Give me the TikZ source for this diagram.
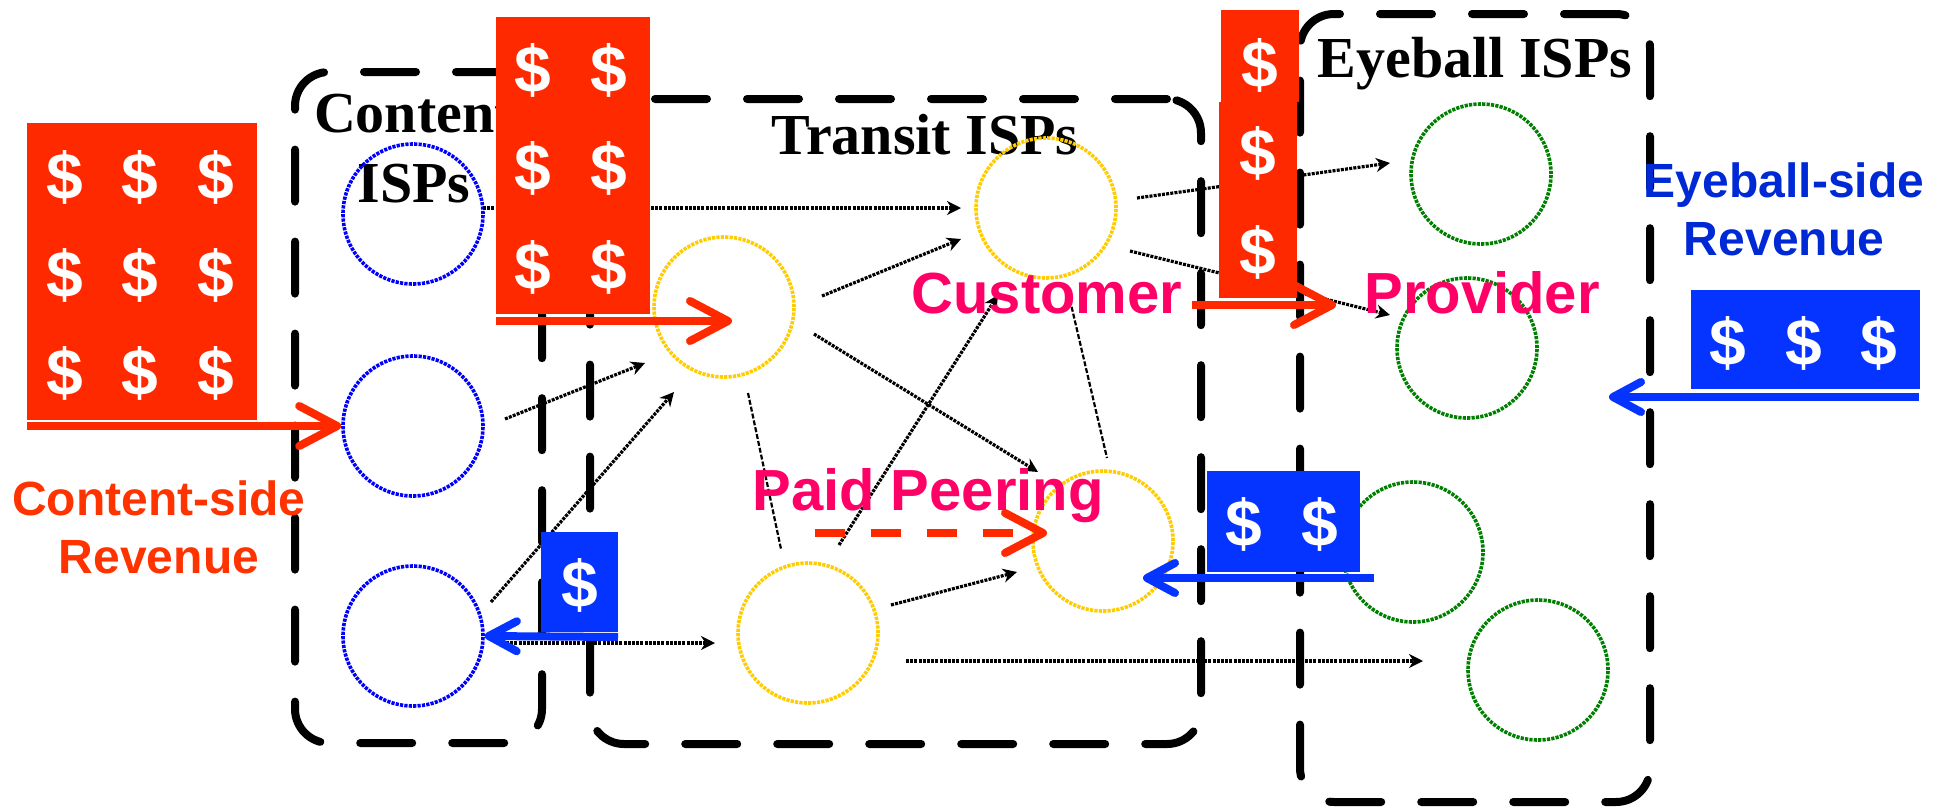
\documentclass[tikz,border=0pt]{standalone}
\usepackage{fontspec}
\setmainfont{Liberation Serif}
\newfontfamily\sansf{Liberation Sans}
\usetikzlibrary{arrows.meta}
\definecolor{cashred}{RGB}{255,41,0}
\definecolor{cashblue}{RGB}{5,51,255}
\definecolor{reltext}{RGB}{255,0,102}
\definecolor{revred}{RGB}{255,51,0}
\definecolor{revblue}{RGB}{0,41,214}
\definecolor{ispblue}{RGB}{0,0,255}
\definecolor{ispyellow}{RGB}{255,204,0}
\definecolor{ispgreen}{RGB}{0,128,0}
\tikzset{
  grp/.style={draw=black, line width=4pt, dash pattern=on 26pt off 20pt, line cap=round, rounded corners=17pt, inner sep=0pt},
  isp/.style={circle, line width=1.8pt, dash pattern=on 1.6pt off 0.6pt, minimum size=70pt, inner sep=0pt},
  link/.style={line width=1.6pt, dash pattern=on 1.5pt off 0.6pt, -{Stealth[length=7pt,width=7pt]}},
  peer/.style={line width=1.1pt, dash pattern=on 2.5pt off 1pt},
  moneyR/.style={draw=cashred, line width=4pt, -{Straight Barb[length=19pt,width=20pt,round]}},
  moneyB/.style={draw=cashblue, line width=4pt, -{Straight Barb[length=14pt,width=15pt,round]}},
  cashR/.style={fill=cashred, inner sep=0pt, anchor=north west},
  cashB/.style={fill=cashblue, inner sep=0pt, anchor=north west},
  dollar/.style={font=\sansf\bfseries\fontsize{33}{33}\selectfont, text=white, inner sep=0pt},
  title/.style={font=\bfseries\fontsize{29}{29}\selectfont, inner sep=0pt, anchor=base},
  rel/.style={font=\sansf\bfseries\fontsize{29}{29}\selectfont, text=reltext, inner sep=0pt, anchor=base},
  rev/.style={font=\sansf\bfseries\fontsize{24}{24}\selectfont, inner sep=0pt, anchor=base}
}
\begin{document}
\begin{tikzpicture}[x=0.5pt,y=-0.5pt]
\useasboundingbox[fill=white] (0,0) rectangle (1944,809);

% group boxes
\node[grp, minimum width=123.5pt, minimum height=335.5pt] (content) at (418.5,407.5) {};
\node[grp, minimum width=305.5pt, minimum height=322.5pt] (transit) at (895.5,421.5) {};
\node[grp, minimum width=175pt, minimum height=394pt] (eyeball) at (1475,408) {};

% group titles
\node[title] (tcont) at (414,132) {Content};
\node[title] (tcisp) at (414,202) {ISPs};
\node[title] (ttran) at (925,154) {Transit ISPs};
\node[title] (teye) at (1475,77) {Eyeball ISPs};

% ISPs
\node[isp, draw=ispblue] (C1) at (413,214) {};
\node[isp, draw=ispblue] (C2) at (413,426) {};
\node[isp, draw=ispblue] (C3) at (413,636) {};
\node[isp, draw=ispyellow] (T1) at (724,307) {};
\node[isp, draw=ispyellow] (T2) at (1046,208) {};
\node[isp, draw=ispyellow] (T3) at (808,633) {};
\node[isp, draw=ispyellow] (T4) at (1103,541) {};
\node[isp, draw=ispgreen] (E1) at (1481,174) {};
\node[isp, draw=ispgreen] (E2) at (1467,348) {};
\node[isp, draw=ispgreen] (E3) at (1413,552) {};
\node[isp, draw=ispgreen] (E4) at (1538,670) {};

% links
\draw[link] ([shift={(70,-6)}]C1.center) -- ([shift={(-85,0)}]T2.center);
\draw[link] ([shift={(92,-7)}]C2.center) -- ([shift={(-79,56)}]T1.center);
\draw[link] ([shift={(78,-34)}]C3.center) -- ([shift={(-50,85)}]T1.center);
\draw[link] ([shift={(93,7)}]C3.center) -- ([shift={(-93,10)}]T3.center);
\draw[link] ([shift={(98,-11)}]T1.center) -- ([shift={(-85,31)}]T2.center);
\draw[link] ([shift={(90,27)}]T1.center) -- ([shift={(-65,-69)}]T4.center);
\draw[link] ([shift={(31,-88)}]T3.center) -- ([shift={(-48,87)}]T2.center);
\draw[peer] ([shift={(24,86)}]T1.center) -- ([shift={(-27,-84)}]T3.center);
\draw[peer] ([shift={(24,92)}]T2.center) -- ([shift={(4,-83)}]T4.center);
\draw[link] ([shift={(83,-28)}]T3.center) -- ([shift={(-86,31)}]T4.center);
\draw[link] ([shift={(98,28)}]T3.center) -- ([shift={(-115,-9)}]E4.center);
\draw[link] ([shift={(91,-10)}]T2.center) -- ([shift={(-91,-11)}]E1.center);
\draw[link] ([shift={(84,43)}]T2.center) -- ([shift={(-77,-33)}]E2.center);

% red cash
\node[cashR, minimum width=115pt, minimum height=148.5pt] (rb1) at (27,123) {};
\node[dollar] (r1a) at (65,177) {\$};
\node[dollar] (r1b) at (140,177) {\$};
\node[dollar] (r1c) at (216,177) {\$};
\node[dollar] (r1d) at (65,275) {\$};
\node[dollar] (r1e) at (140,275) {\$};
\node[dollar] (r1f) at (216,275) {\$};
\node[dollar] (r1g) at (65,373) {\$};
\node[dollar] (r1h) at (140,373) {\$};
\node[dollar] (r1i) at (216,373) {\$};

\node[cashR, minimum width=77pt, minimum height=148.5pt] (rb2) at (496,17) {};
\node[dollar] (r2a) at (533,70) {\$};
\node[dollar] (r2b) at (609,70) {\$};
\node[dollar] (r2c) at (533,168) {\$};
\node[dollar] (r2d) at (609,168) {\$};
\node[dollar] (r2e) at (533,267) {\$};
\node[dollar] (r2f) at (609,267) {\$};

\node[cashR, minimum width=39pt, minimum height=46pt] (rb3a) at (1221,10) {};
\node[cashR, minimum width=39pt, minimum height=98pt] (rb3b) at (1219,102) {};
\node[dollar] (r3a) at (1260,65) {\$};
\node[dollar] (r3b) at (1258,153) {\$};
\node[dollar] (r3c) at (1258,252) {\$};

% blue cash
\node[cashB, minimum width=38.5pt, minimum height=50pt] (bb1) at (541,532) {};
\node[dollar] (b1a) at (580,585) {\$};
\node[cashB, minimum width=76.5pt, minimum height=50.5pt] (bb2) at (1207,471) {};
\node[dollar] (b2a) at (1244,524) {\$};
\node[dollar] (b2b) at (1320,524) {\$};
\node[cashB, minimum width=114.5pt, minimum height=49.5pt] (bb3) at (1691,290) {};
\node[dollar] (b3a) at (1728,343) {\$};
\node[dollar] (b3b) at (1804,343) {\$};
\node[dollar] (b3c) at (1879,343) {\$};

% money flows
\coordinate (m1s) at (27,426);
\draw[moneyR] (m1s) -- (C2.west);
\coordinate (m2s) at (496,321);
\coordinate (m2e) at (732,321);
\draw[moneyR] (m2s) -- (m2e);
\coordinate (m3s) at (1192,305);
\coordinate (m3e) at (1336,305);
\draw[moneyR] (m3s) -- (m3e);
\coordinate (mps) at (815,533);
\coordinate (mpe) at (1047,533);
\draw[moneyR, dash pattern=on 15pt off 13pt] (mps) -- (mpe);
\coordinate (b1s) at (618,637);
\draw[moneyB] (b1s) -- (C3.east);
\coordinate (b2s) at (1374,578);
\coordinate (b2e) at (1143,578);
\draw[moneyB] (b2s) -- (b2e);
\coordinate (b3s) at (1919,397);
\coordinate (b3e) at (1609,397);
\draw[moneyB] (b3s) -- (b3e);

% labels
\node[rel] (cust) at (1047,313) {Customer};
\node[rel] (prov) at (1482,313) {Provider};
\node[rel] (paid) at (928,510) {Paid Peering};
\node[rev, text=revred] (crev1) at (159,515) {Content-side};
\node[rev, text=revred] (crev2) at (159,573) {Revenue};
\node[rev, text=revblue] (erev1) at (1784,197) {Eyeball-side};
\node[rev, text=revblue] (erev2) at (1784,255) {Revenue};
\end{tikzpicture}
\end{document}
